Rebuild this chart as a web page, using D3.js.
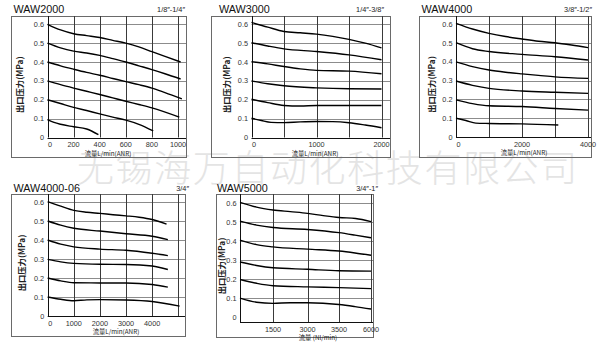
<!DOCTYPE html>
<html>
<head>
<meta charset="utf-8">
<script src="https://cdn.jsdelivr.net/npm/d3@7"></script>
<style>
  body { margin: 0; background: #fff; }
  svg { display: block; }
</style>
</head>
<body>
<svg id="chart" width="600" height="344"></svg>
<script>
// pressure grid shared by all charts
const pressureTicks = [0, 0.1, 0.2, 0.3, 0.4, 0.5, 0.6];
const pressureGrid = [0.1, 0.2, 0.3, 0.4, 0.5, 0.6];

// WAW2000
const waw2000Labels = [0, 200, 400, 600, 800, 1000];
const waw2000Grid = [200, 400, 600, 800, 1000];
const waw2000Curves = [
    [[0,0.6],[100,0.57],[200,0.55],[300,0.54],[400,0.53],[500,0.515],[600,0.5],[700,0.48],[800,0.455],[900,0.43],[1020,0.4]],
    [[0,0.5],[100,0.475],[200,0.458],[300,0.448],[400,0.435],[500,0.418],[600,0.4],[700,0.38],[800,0.36],[900,0.338],[1020,0.31]],
    [[0,0.4],[100,0.38],[200,0.362],[300,0.345],[400,0.33],[500,0.313],[600,0.296],[700,0.28],[800,0.262],[900,0.238],[1030,0.205]],
    [[0,0.3],[100,0.28],[200,0.262],[300,0.245],[400,0.228],[500,0.21],[600,0.192],[700,0.175],[800,0.157],[1010,0.108]],
    [[0,0.2],[100,0.18],[200,0.16],[300,0.143],[400,0.125],[500,0.108],[600,0.092],[700,0.07],[810,0.035]],
    [[0,0.095],[50,0.08],[100,0.07],[200,0.057],[300,0.045],[390,0.015]]
];

// WAW3000
const waw3000Labels = [0, 1000, 2000];
const waw3000Grid = [500, 1000, 1500, 2000];
const waw3000Curves = [
    [[0,0.61],[250,0.585],[500,0.562],[750,0.555],[1000,0.548],[1250,0.536],[1500,0.52],[1750,0.5],[2000,0.475]],
    [[0,0.502],[250,0.485],[500,0.47],[1000,0.456],[1500,0.438],[2000,0.412]],
    [[0,0.402],[250,0.39],[500,0.376],[750,0.364],[1000,0.356],[1500,0.352],[2000,0.338]],
    [[0,0.3],[250,0.285],[500,0.274],[1000,0.263],[1500,0.258],[2000,0.257]],
    [[0,0.203],[250,0.185],[500,0.17],[750,0.167],[1000,0.17],[1500,0.17],[2000,0.17]],
    [[0,0.102],[150,0.09],[300,0.08],[500,0.079],[750,0.083],[1000,0.085],[1250,0.084],[1500,0.078],[1750,0.066],[2000,0.052]]
];

// WAW4000
const waw4000Labels = [0, 2000, 4000];
const waw4000Grid = [1000, 2000, 3000, 4000];
const waw4000Curves = [
    [[0,0.605],[500,0.575],[1000,0.552],[1500,0.535],[2000,0.522],[2500,0.51],[3000,0.502],[3500,0.49],[4000,0.476]],
    [[0,0.502],[500,0.47],[1000,0.455],[2000,0.44],[3000,0.427],[4000,0.41]],
    [[0,0.4],[500,0.375],[1000,0.357],[1500,0.345],[2000,0.336],[2500,0.328],[3000,0.32],[4000,0.312]],
    [[0,0.298],[500,0.275],[1000,0.259],[2000,0.245],[3000,0.238],[4000,0.232]],
    [[0,0.198],[500,0.178],[1000,0.166],[2000,0.162],[3000,0.152],[4000,0.143]],
    [[0,0.1],[300,0.088],[600,0.074],[1000,0.072],[2000,0.07],[3100,0.064]]
];

// WAW4000-06
const waw400006Labels = [0, 1000, 2000, 3000, 4000];
const waw400006Grid = [1000, 2000, 3000, 4000, 5000];
const waw400006Curves = [
    [[0,0.602],[500,0.578],[1000,0.556],[1500,0.546],[2000,0.54],[2500,0.533],[3000,0.527],[3500,0.52],[4000,0.508],[4550,0.484]],
    [[0,0.5],[500,0.478],[1000,0.462],[2000,0.447],[3000,0.433],[4000,0.42],[4600,0.402]],
    [[0,0.4],[500,0.378],[1000,0.364],[2000,0.352],[3000,0.346],[4000,0.33],[4600,0.318]],
    [[0,0.298],[500,0.285],[1000,0.277],[2000,0.272],[3000,0.271],[4000,0.263],[4600,0.245]],
    [[0,0.2],[500,0.185],[1000,0.175],[2000,0.174],[3000,0.174],[4000,0.166],[4600,0.152]],
    [[0,0.1],[500,0.088],[1000,0.08],[1500,0.085],[2000,0.086],[3000,0.084],[4000,0.076],[5050,0.052]]
];

// WAW5000 (axis labels are not evenly spaced in value)
const waw5000Labels = [1500, 3000, 3500, 6000];
const waw5000Grid = [1500, 3000, 3500, 6000];
const waw5000Curves = [
    [[0,0.605],[750,0.58],[1500,0.565],[2250,0.556],[3000,0.547],[3250,0.535],[3500,0.525],[4800,0.52],[6000,0.503]],
    [[0,0.506],[750,0.485],[1500,0.472],[3000,0.462],[3500,0.445],[4750,0.432],[6000,0.418]],
    [[0,0.406],[750,0.382],[1500,0.37],[3000,0.358],[3500,0.348],[4750,0.338],[6000,0.326]],
    [[0,0.29],[750,0.272],[1500,0.26],[3000,0.252],[3500,0.244],[6000,0.242]],
    [[0,0.198],[750,0.178],[1500,0.165],[3000,0.159],[3500,0.155],[6000,0.15]],
    [[0,0.1],[750,0.078],[1500,0.072],[2250,0.075],[3000,0.075],[3500,0.066],[4750,0.055],[6000,0.042]]
];

const titles = ["WAW2000", "WAW3000", "WAW4000", "WAW4000-06", "WAW5000"];
const sizes = ["1/8\u2033-1/4\u2033", "1/4\u2033-3/8\u2033", "3/8\u2033-1/2\u2033", "3/4\u2033", "3/4\u2033-1\u2033"];
const xTitles = ["流量L/min(ANR)", "流量L/min(ANR)", "流量L/min(ANR)", "流量L/min(ANR)", "流量 (Nl/min)"];
const yTitle = "出口压力(MPa)";
const watermark = "无锡海万自动化科技有限公司";

const latin = "'Liberation Sans', Arial, sans-serif";
const cjk = "'Noto Sans CJK SC', 'Liberation Sans', sans-serif";

const svg = d3.select("#chart");

// watermark behind everything
svg.append("text")
    .attr("x", 77)
    .attr("y", 182)
    .attr("font-family", cjk)
    .attr("font-size", 37)
    .attr("font-weight", 300)
    .attr("letter-spacing", 1.6)
    .attr("fill", "#e4e4e4")
    .text(watermark);

// box, plot edges and ranges of each panel
const panels = [
    { box: [11, 16, 186, 157], plotLeft: 47.5, axisY: 137.5,
      xDomain: [0, 1000], xRange: [47.5, 178], yRange: [137.5, 24.3],
      labels: waw2000Labels, grid: waw2000Grid, curves: waw2000Curves,
      titleX: 13.5, sizeX: 185, headY: 13, yTitleX: 20, xTitleX: 108 },
    { box: [211, 16, 390, 157], plotLeft: 251.5, axisY: 137.5,
      xDomain: [0, 2000], xRange: [251.5, 381.5], yRange: [137.5, 24.3],
      labels: waw3000Labels, grid: waw3000Grid, curves: waw3000Curves,
      titleX: 219, sizeX: 384, headY: 13, yTitleX: 227, xTitleX: 315 },
    { box: [419, 16, 591, 157], plotLeft: 456, axisY: 137,
      xDomain: [0, 4000], xRange: [456, 588], yRange: [137, 24.3],
      labels: waw4000Labels, grid: waw4000Grid, curves: waw4000Curves,
      titleX: 421.5, sizeX: 592, headY: 13, yTitleX: 432, xTitleX: 524 },
    { box: [11, 194, 185, 336], plotLeft: 47.7, axisY: 316,
      xDomain: [0, 5000], xRange: [47.7, 178.3], yRange: [316, 202],
      labels: waw400006Labels, grid: waw400006Grid, curves: waw400006Curves,
      titleX: 13.5, sizeX: 189, headY: 191.5, yTitleX: 22, xTitleX: 116 },
    { box: [216, 194, 373, 337], plotLeft: 240, axisY: 322,
      xDomain: [0, 1500, 3000, 3500, 6000], xRange: [240, 273, 307.5, 339, 371], yRange: [317, 203.3],
      labels: waw5000Labels, grid: waw5000Grid, curves: waw5000Curves,
      titleX: 217, sizeX: 378, headY: 191.5, yTitleX: 222, xTitleX: 318 }
];

panels.forEach((p, i) => drawPanel(p, i));

function drawPanel(p, i) {
    const [bx0, by0, bx1, by1] = p.box;
    const x = d3.scaleLinear().domain(p.xDomain).range(p.xRange);
    const y = d3.scaleLinear().domain([0, 0.6]).range(p.yRange);
    const g = svg.append("g");

    // outer frame
    g.append("rect")
        .attr("x", bx0 + 0.5)
        .attr("y", by0 + 0.5)
        .attr("width", bx1 - bx0)
        .attr("height", by1 - by0)
        .attr("fill", "none")
        .attr("stroke", "#6a6a6a")
        .attr("stroke-width", 1);

    // horizontal grid
    g.selectAll("line.hgrid")
        .data(pressureGrid)
        .enter()
        .append("line")
        .attr("class", "hgrid")
        .attr("x1", p.plotLeft)
        .attr("x2", bx1)
        .attr("y1", d => Math.round(y(d)) + 0.5)
        .attr("y2", d => Math.round(y(d)) + 0.5)
        .attr("stroke", "#8c8c8c")
        .attr("stroke-width", 1);

    // vertical grid
    g.selectAll("line.vgrid")
        .data(p.grid)
        .enter()
        .append("line")
        .attr("class", "vgrid")
        .attr("x1", d => Math.round(x(d)) + 0.5)
        .attr("x2", d => Math.round(x(d)) + 0.5)
        .attr("y1", by0)
        .attr("y2", p.axisY)
        .attr("stroke", "#3a3a3a")
        .attr("stroke-width", 1);

    // axis lines
    g.append("line")
        .attr("x1", Math.round(p.plotLeft) + 0.5).attr("x2", Math.round(p.plotLeft) + 0.5)
        .attr("y1", by0).attr("y2", p.axisY)
        .attr("stroke", "#111");
    g.append("line")
        .attr("x1", p.plotLeft).attr("x2", bx1)
        .attr("y1", Math.round(p.axisY) + 0.5).attr("y2", Math.round(p.axisY) + 0.5)
        .attr("stroke", "#111");

    // y tick labels
    g.selectAll("text.ylab")
        .data(pressureTicks)
        .enter()
        .append("text")
        .attr("class", "ylab")
        .attr("x", p.plotLeft - 3.5)
        .attr("y", d => y(d))
        .attr("dy", "0.35em")
        .attr("text-anchor", "end")
        .attr("font-family", latin)
        .attr("font-size", 7.3)
        .attr("fill", "#333")
        .text(d => d === 0 ? "0" : d3.format(".1f")(d));

    // x tick labels
    g.selectAll("text.xlab")
        .data(p.labels)
        .enter()
        .append("text")
        .attr("class", "xlab")
        .attr("x", d => x(d) + (d === 0 ? 2.5 : 0))
        .attr("y", p.axisY + 9.5)
        .attr("text-anchor", "middle")
        .attr("font-family", latin)
        .attr("font-size", 7.3)
        .attr("fill", "#333")
        .text(d => d);

    // x axis title
    g.append("text")
        .attr("x", p.xTitleX)
        .attr("y", p.axisY + 18)
        .attr("text-anchor", "middle")
        .attr("font-family", cjk)
        .attr("font-size", 6.3)
        .attr("fill", "#222")
        .text(xTitles[i]);

    // y axis title
    const yMid = (by0 + p.axisY) / 2 + 8;
    g.append("text")
        .attr("transform", `translate(${p.yTitleX},${yMid}) rotate(-90)`)
        .attr("text-anchor", "middle")
        .attr("dy", "0.35em")
        .attr("font-family", cjk)
        .attr("font-size", 8.3)
        .attr("font-weight", "bold")
        .attr("fill", "#222")
        .text(yTitle);

    // chart title and port size
    g.append("text")
        .attr("x", p.titleX)
        .attr("y", p.headY)
        .attr("font-family", latin)
        .attr("font-size", 10.8)
        .attr("fill", "#111")
        .text(titles[i]);
    g.append("text")
        .attr("x", p.sizeX)
        .attr("y", p.headY - 1)
        .attr("text-anchor", "end")
        .attr("font-family", latin)
        .attr("font-size", 7.3)
        .attr("fill", "#222")
        .text(sizes[i]);

    // flow curves
    const line = d3.line()
        .x(d => x(d[0]))
        .y(d => y(d[1]))
        .curve(d3.curveMonotoneX);

    g.selectAll("path.curve")
        .data(p.curves)
        .enter()
        .append("path")
        .attr("class", "curve")
        .attr("d", line)
        .attr("fill", "none")
        .attr("stroke", "#000")
        .attr("stroke-width", 1.4);
}
</script>
</body>
</html>
